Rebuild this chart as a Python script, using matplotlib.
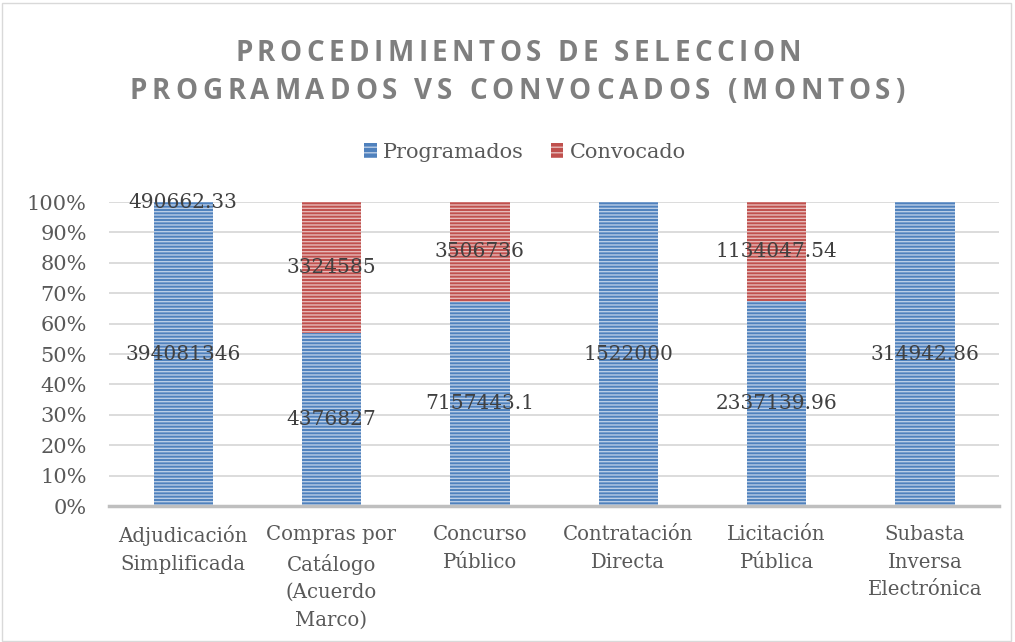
import matplotlib
matplotlib.use("Agg")
import matplotlib.pyplot as plt
import numpy as np
from matplotlib.patches import Patch, Rectangle

categories = [
    "Adjudicación\nSimplificada",
    "Compras por\nCatálogo\n(Acuerdo\nMarco)",
    "Concurso\nPúblico",
    "Contratación\nDirecta",
    "Licitación\nPública",
    "Subasta\nInversa\nElectrónica",
]
programados = [394081346, 4376827, 7157443.1, 1522000, 2337139.96, 314942.86]
convocado = [490662.33, 3324585, 3506736, 0, 1134047.54, 0]
prog_labels = ["394081346", "4376827", "7157443.1", "1522000", "2337139.96", "314942.86"]
conv_labels = ["490662.33", "3324585", "3506736", "", "1134047.54", ""]
yticks = [0, 0.1, 0.2, 0.3, 0.4, 0.5, 0.6, 0.7, 0.8, 0.9, 1.0]
title_lines = ["PROCEDIMIENTOS DE SELECCION", "PROGRAMADOS VS CONVOCADOS (MONTOS)"]

BLUE = "#4F81BD"
RED = "#C0504D"
SERIF = "DejaVu Serif"

plt.rcParams["hatch.linewidth"] = 1.0

fig = plt.figure(figsize=(10.15, 6.42), dpi=100)
ax = fig.add_axes([109 / 1015, 1 - 506 / 642, 890 / 1015, 304 / 642])

prog = np.array(programados, dtype=float)
conv = np.array(convocado, dtype=float)
total = prog + conv
p_prog = prog / total
p_conv = conv / total
x = np.arange(len(categories))
w = 0.4

ax.bar(x, p_prog, w, color=BLUE, edgecolor="#b9cde6", hatch="-----", linewidth=0, zorder=2)
ax.bar(x, p_conv, w, bottom=p_prog, color=RED, edgecolor="#e6b9b8", hatch="-----", linewidth=0, zorder=2)

for i in range(len(categories)):
    if prog_labels[i]:
        ax.text(x[i], p_prog[i] / 2, prog_labels[i], ha="center", va="center",
                fontsize=14.5, family=SERIF, color="#404040", zorder=3)
    if conv_labels[i]:
        ax.text(x[i], p_prog[i] + p_conv[i] / 2, conv_labels[i], ha="center", va="center",
                fontsize=14.5, family=SERIF, color="#404040", zorder=3)

ax.set_xlim(-0.5, len(categories) - 0.5)
ax.set_ylim(0, 1)
ax.set_yticks(yticks)
ax.set_yticklabels([f"{int(round(t * 100))}%" for t in yticks], family=SERIF, fontsize=15, color="#595959")
ax.set_xticks(x)
ax.set_xticklabels(categories, family=SERIF, fontsize=14.2, color="#595959", linespacing=1.55, va="top")
ax.tick_params(axis="y", length=0, pad=16)
ax.tick_params(axis="x", length=0, pad=14)
ax.yaxis.grid(True, color="#d9d9d9", linewidth=1.3, zorder=0)
ax.set_axisbelow(True)
for s in ["left", "right", "top"]:
    ax.spines[s].set_visible(False)
ax.spines["bottom"].set_color("#bfbfbf")
ax.spines["bottom"].set_linewidth(2.5)
ax.spines["bottom"].set_zorder(4)

# legend
handles = [
    Patch(facecolor=BLUE, edgecolor="#b9cde6", hatch="---", linewidth=0, label="Programados"),
    Patch(facecolor=RED, edgecolor="#e6b9b8", hatch="---", linewidth=0, label="Convocado"),
]
fig.legend(handles=handles, loc="center", bbox_to_anchor=(525 / 1015, 1 - 152 / 642), ncol=2,
           frameon=False, prop={"family": SERIF, "size": 15}, labelcolor="#595959",
           handlelength=0.6, handleheight=0.7, handletextpad=0.3, columnspacing=1.3)

# letter-spaced title, drawn char by char
renderer = fig.canvas.get_renderer()
title_kw = dict(family="Open Sans", fontweight="bold", fontsize=20, color="#7f7f7f")


def text_width(s):
    t = fig.text(0, 0, s, **title_kw)
    wpx = t.get_window_extent(renderer).width
    t.remove()
    return wpx


def spaced_title(s, cx, base_y, target):
    natural = text_width(s)
    spacing = (target - natural) / (len(s) - 1)
    x0 = cx - target / 2
    for i, ch in enumerate(s):
        if ch == " ":
            continue
        left = text_width(s[:i + 1]) - text_width(ch) + i * spacing
        fig.text((x0 + left) / 1015, 1 - base_y / 642, ch, ha="left", va="baseline", **title_kw)


spaced_title(title_lines[0], 518, 61, 566)
spaced_title(title_lines[1], 517, 99, 775)

# chart border
fig.patches.append(Rectangle((0.002, 0.002), 0.994, 0.994, transform=fig.transFigure,
                             fill=False, edgecolor="#d9d9d9", linewidth=1))

fig.savefig("out.png", dpi=100)
